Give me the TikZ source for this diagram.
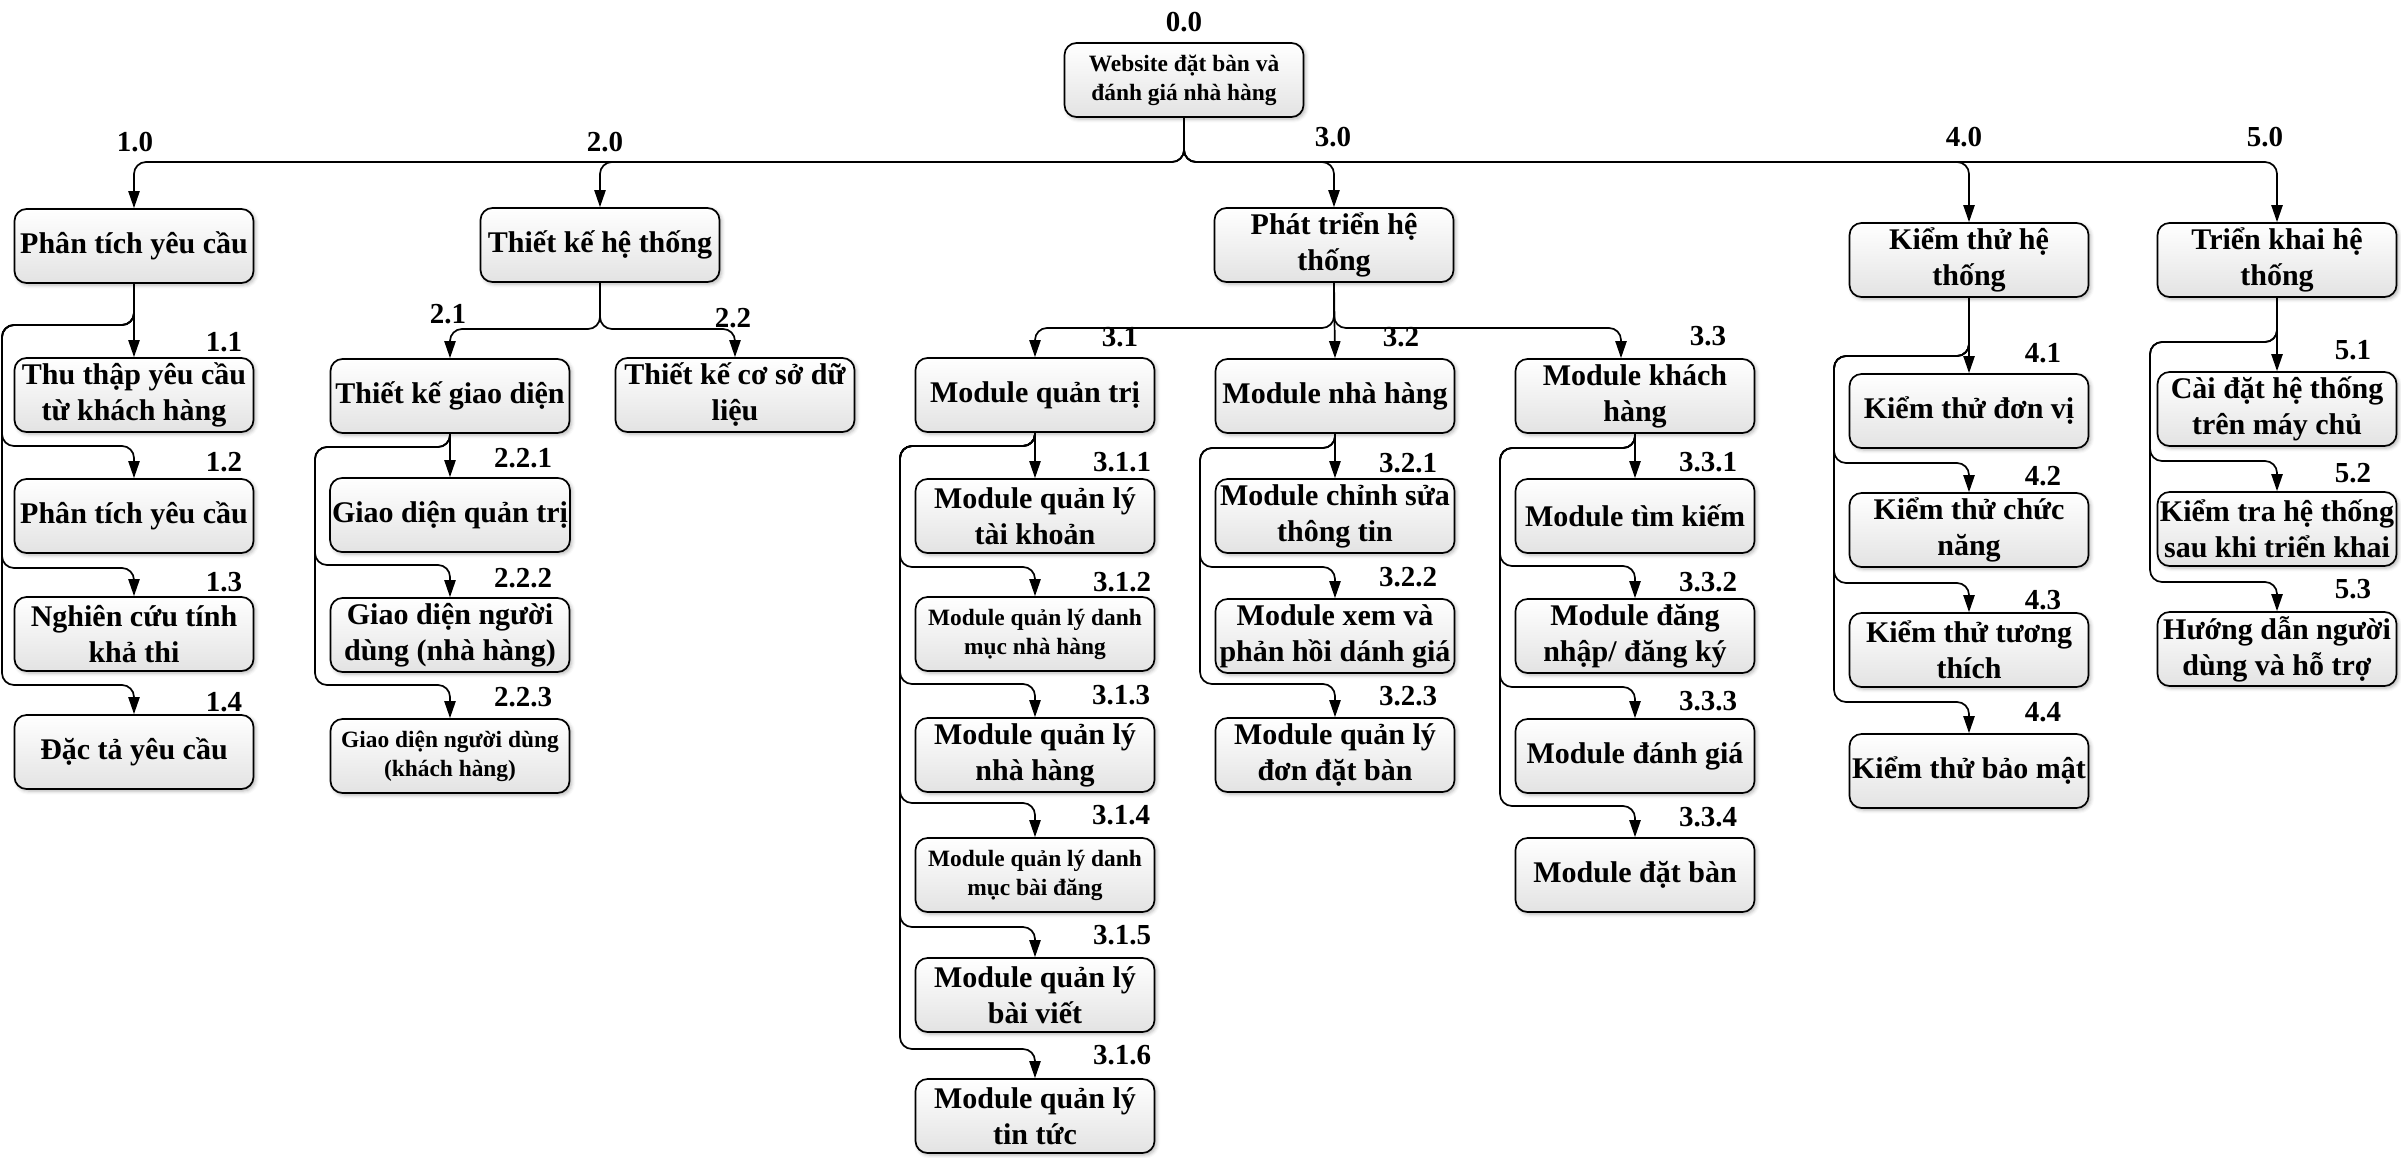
\documentclass[tikz,border=0pt]{standalone}
\usepackage{fontspec}
\setmainfont{Liberation Serif}
\usetikzlibrary{arrows.meta,shadows.blur}
\tikzset{
  wbox/.style={draw=black, line width=0.85pt, rounded corners=6pt,
    minimum width=119.5pt, minimum height=37pt, inner sep=1pt, align=center,
    font=\bfseries\fontsize{15}{18}\selectfont,
    top color=white, bottom color=black!11,
    blur shadow={shadow xshift=1pt, shadow yshift=-1pt, shadow blur steps=4, shadow opacity=30}},
  sbox/.style={wbox, font=\bfseries\fontsize{11.7}{14.5}\selectfont},
  num/.style={font=\bfseries\fontsize{14.5}{17}\selectfont, inner sep=0pt},
  conn/.style={draw, line width=0.85pt, rounded corners=6pt, -{Triangle[length=8.5pt,width=5.6pt]}},
}
\begin{document}
\begin{tikzpicture}[x=0.5pt,y=-0.5pt]
\useasboundingbox (0,0) rectangle (2401,1157);
% ---------- boxes ----------
\node[sbox] (r) at (1184,80) {Website đặt bàn và\\đánh giá nhà hàng};
\node[wbox] (a1) at (134,246) {Phân tích yêu cầu};
\node[wbox] (a2) at (600,245) {Thiết kế hệ thống};
\node[wbox] (a3) at (1334,245) {Phát triển hệ\\thống};
\node[wbox] (a4) at (1969,260) {Kiểm thử hệ\\thống};
\node[wbox] (a5) at (2277,260) {Triển khai hệ\\thống};
\node[wbox] (a11) at (134,395) {Thu thập yêu cầu\\từ khách hàng};
\node[wbox] (a12) at (134,516) {Phân tích yêu cầu};
\node[wbox] (a13) at (134,634) {Nghiên cứu tính\\khả thi};
\node[wbox] (a14) at (134,752) {Đặc tả yêu cầu};
\node[wbox] (b1) at (450,396) {Thiết kế giao diện};
\node[wbox] (b2) at (735,395) {Thiết kế cơ sở dữ\\liệu};
\node[wbox] (b11) at (450,515) {Giao diện quản trị};
\node[wbox] (b12) at (450,635) {Giao diện người\\dùng (nhà hàng)};
\node[sbox] (b13) at (450,756) {Giao diện người dùng\\(khách hàng)};
\node[wbox] (c1) at (1035,395) {Module quản trị};
\node[wbox] (c2) at (1335,396) {Module nhà hàng};
\node[wbox] (c3) at (1635,396) {Module khách\\hàng};
\node[wbox] (c11) at (1035,516) {Module quản lý\\tài khoản};
\node[sbox] (c12) at (1035,634) {Module quản lý danh\\mục nhà hàng};
\node[wbox] (c13) at (1035,755) {Module quản lý\\nhà hàng};
\node[sbox] (c14) at (1035,875) {Module quản lý danh\\mục bài đăng};
\node[wbox] (c15) at (1035,995) {Module quản lý\\bài viết};
\node[wbox] (c16) at (1035,1116) {Module quản lý\\tin tức};
\node[wbox] (c21) at (1335,516) {Module chỉnh sửa\\thông tin};
\node[wbox] (c22) at (1335,636) {Module xem và\\phản hồi dánh giá};
\node[wbox] (c23) at (1335,755) {Module quản lý\\đơn đặt bàn};
\node[wbox] (c31) at (1635,516) {Module tìm kiếm};
\node[wbox] (c32) at (1635,636) {Module đăng\\nhập/ đăng ký};
\node[wbox] (c33) at (1635,756) {Module đánh giá};
\node[wbox] (c34) at (1635,875) {Module đặt bàn};
\node[wbox] (d1) at (1969,411) {Kiểm thử đơn vị};
\node[wbox] (d2) at (1969,530) {Kiểm thử chức\\năng};
\node[wbox] (d3) at (1969,650) {Kiểm thử tương\\thích};
\node[wbox] (d4) at (1969,771) {Kiểm thử bảo mật};
\node[wbox] (e1) at (2277,409) {Cài đặt hệ thống\\trên máy chủ};
\node[wbox] (e2) at (2277,529) {Kiểm tra hệ thống\\sau khi triển khai};
\node[wbox] (e3) at (2277,649) {Hướng dẫn người\\dùng và hỗ trợ};
% ---------- numbers ----------
\node[num] (n0) at (1184,22) {0.0};
\node[num] (n1) at (135,142) {1.0};
\node[num] (n2) at (605,142) {2.0};
\node[num] (n3) at (1333,137) {3.0};
\node[num] (n4) at (1964,137) {4.0};
\node[num] (n5) at (2265,137) {5.0};
\node[num] (n11) at (224,342) {1.1};
\node[num] (n12) at (224,462) {1.2};
\node[num] (n13) at (224,582) {1.3};
\node[num] (n14) at (224,702) {1.4};
\node[num] (n21) at (448,314) {2.1};
\node[num] (n22) at (733,318) {2.2};
\node[num] (n221) at (523,458) {2.2.1};
\node[num] (n222) at (523,578) {2.2.2};
\node[num] (n223) at (523,697) {2.2.3};
\node[num] (n31) at (1120,337) {3.1};
\node[num] (n32) at (1401,337) {3.2};
\node[num] (n33) at (1708,336) {3.3};
\node[num] (n311) at (1122,462) {3.1.1};
\node[num] (n312) at (1122,582) {3.1.2};
\node[num] (n313) at (1121,695) {3.1.3};
\node[num] (n314) at (1121,815) {3.1.4};
\node[num] (n315) at (1122,935) {3.1.5};
\node[num] (n316) at (1122,1055) {3.1.6};
\node[num] (n321) at (1408,463) {3.2.1};
\node[num] (n322) at (1408,577) {3.2.2};
\node[num] (n323) at (1408,696) {3.2.3};
\node[num] (n331) at (1708,462) {3.3.1};
\node[num] (n332) at (1708,582) {3.3.2};
\node[num] (n333) at (1708,701) {3.3.3};
\node[num] (n334) at (1708,817) {3.3.4};
\node[num] (n41) at (2043,353) {4.1};
\node[num] (n42) at (2043,476) {4.2};
\node[num] (n43) at (2043,600) {4.3};
\node[num] (n44) at (2043,712) {4.4};
\node[num] (n51) at (2353,350) {5.1};
\node[num] (n52) at (2353,473) {5.2};
\node[num] (n53) at (2353,589) {5.3};
% ---------- connectors: level 1 ----------
\foreach \c in {a1,a2,a3,a4,a5}
  \draw[conn] (r.south) -- (1184,162) -| (\c.north);
% ---------- 1.x ----------
\draw[conn] (a1.south) -- (a11.north);
\foreach \c/\yy in {a12/446,a13/568,a14/685}
  \draw[conn] (a1.south) -- (134,325) -- (2,325) -- (2,\yy) -| (\c.north);
% ---------- 2.x ----------
\draw[conn] (a2.south) -- (600,329) -| (b1.north);
\draw[conn] (a2.south) -- (600,329) -| (b2.north);
\draw[conn] (b1.south) -- (b11.north);
\foreach \c/\yy in {b12/565,b13/685}
  \draw[conn] (b1.south) -- (450,447) -- (315,447) -- (315,\yy) -| (\c.north);
% ---------- 3.x ----------
\draw[conn] (a3.south) -- (1334,328) -| (c1.north);
\draw[conn] (a3.south) -- (c2.north);
\draw[conn] (a3.south) -- (1334,328) -| ([xshift=-7pt]c3.north);
\draw[conn] (c1.south) -- (c11.north);
\foreach \c/\yy in {c12/567,c13/684,c14/803,c15/927,c16/1049}
  \draw[conn] (c1.south) -- (1035,446) -- (900,446) -- (900,\yy) -| (\c.north);
\draw[conn] (c2.south) -- (c21.north);
\foreach \c/\yy in {c22/567,c23/684}
  \draw[conn] (c2.south) -- (1335,448) -- (1200,448) -- (1200,\yy) -| (\c.north);
\draw[conn] (c3.south) -- (c31.north);
\foreach \c/\yy in {c32/566,c33/687,c34/806}
  \draw[conn] (c3.south) -- (1635,448) -- (1500,448) -- (1500,\yy) -| (\c.north);
% ---------- 4.x ----------
\draw[conn] (a4.south) -- (d1.north);
\foreach \c/\yy in {d2/463,d3/583,d4/702}
  \draw[conn] (a4.south) -- (1969,356) -- (1834,356) -- (1834,\yy) -| (\c.north);
% ---------- 5.x ----------
\draw[conn] (a5.south) -- (e1.north);
\foreach \c/\yy in {e2/461,e3/582}
  \draw[conn] (a5.south) -- (2277,342) -- (2150,342) -- (2150,\yy) -| (\c.north);
\end{tikzpicture}
\end{document}
